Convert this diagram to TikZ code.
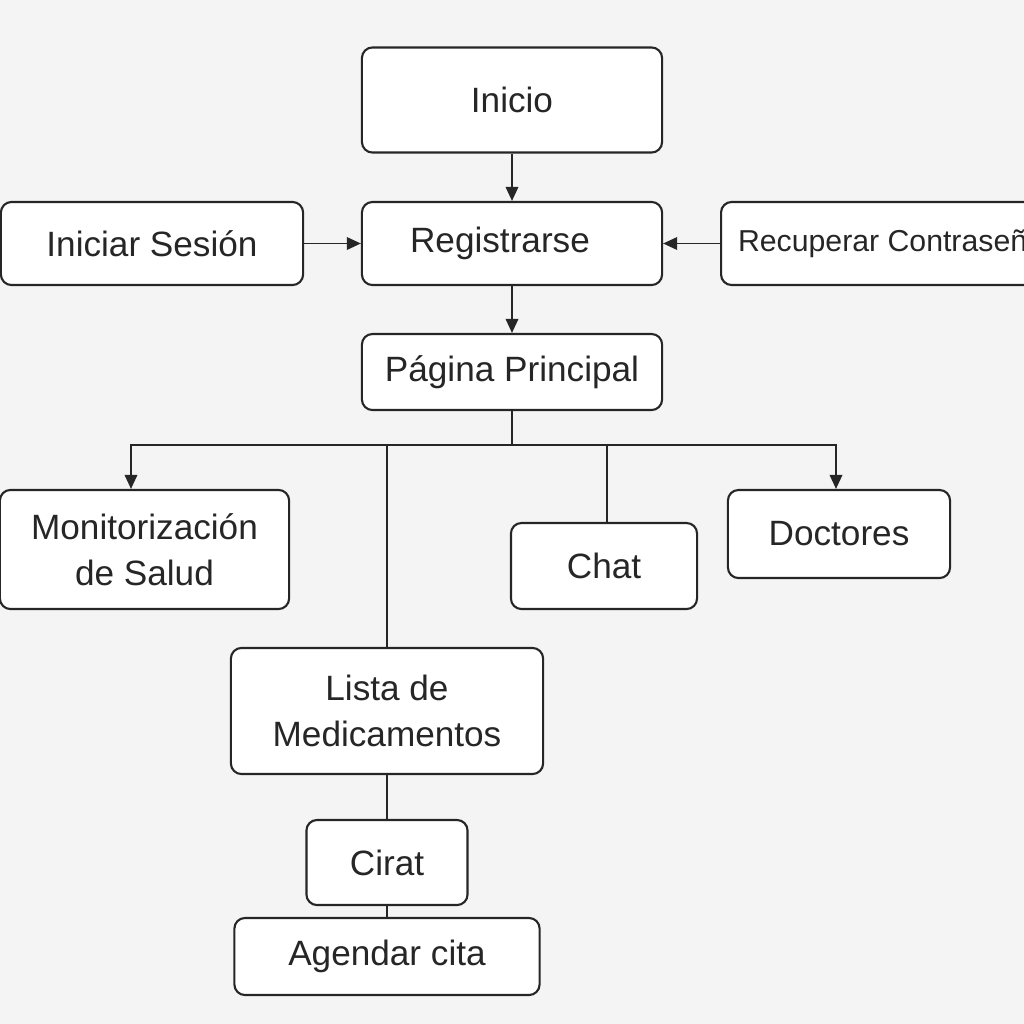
\documentclass[tikz,border=0pt]{standalone}
\usepackage{fontspec}
\setmainfont{Liberation Sans}
\usetikzlibrary{arrows.meta}
\definecolor{fondo}{HTML}{F4F4F4}
\definecolor{trazo}{HTML}{262626}
\tikzset{
  caja/.style={
    rectangle,
    rounded corners=3pt,
    draw=trazo,
    fill=white,
    line width=0.6pt,
    minimum width=#1,
    align=center,
    inner sep=0pt,
    text=trazo,
    font=\fontsize{10}{13}\selectfont,
  },
  caja/.default=3cm,
  flecha/.style={-{Triangle[length=4pt,width=3.6pt]}, draw=trazo, line width=0.45pt},
  enlace/.style={draw=trazo, line width=0.45pt}
}

\begin{document}
\begin{tikzpicture}[x=0.01cm,y=-0.01cm]
\path[use as bounding box, fill=fondo] (0,0) rectangle (1024,1024);
\node[caja, minimum height=1.05cm] (inicio) at (512,100) {Inicio};
\node[caja, minimum height=0.83cm] (registrarse) at (512,243.5) {Registrarse\hspace{0.24cm}};
\node[caja=3.02cm, minimum height=0.83cm] (iniciar) at (152,243.5) {Iniciar Sesión};
\node[caja, minimum height=0.83cm, anchor=west, inner xsep=0.17cm,
  font=\fontsize{8.6}{11}\selectfont] (recuperar) at (720,243.5) {Recuperar Contraseña};
\node[caja, minimum height=0.76cm] (pagina) at (512,372) {Página Principal};
\node[caja=2.89cm, minimum height=1.19cm] (monitor) at (144.5,549.5) {Monitorización\\de Salud};
\node[caja=1.86cm, minimum height=0.86cm] (chat) at (604,566) {Chat};
\node[caja=2.22cm, minimum height=0.88cm] (doctores) at (839,534) {Doctores};
\node[caja=3.12cm, minimum height=1.26cm] (lista) at (387,711) {Lista de\\Medicamentos};
\node[caja=1.61cm, minimum height=0.85cm] (cirat) at (387,862.5) {Cirat};
\node[caja=3.05cm, minimum height=0.77cm] (agendar) at (387,956.5) {Agendar cita};
\coordinate (bus) at (512,445);

\draw[flecha] (inicio) -- (registrarse);
\draw[flecha] (iniciar) -- (registrarse);
\draw[flecha] (recuperar.west) -- (registrarse);
\draw[flecha] (registrarse) -- (pagina);
\draw[enlace] (pagina) -- (bus);
\draw[flecha] (bus) -| ([xshift=-0.135cm]monitor.north);
\draw[flecha] (bus) -| ([xshift=-0.03cm]doctores.north);
\draw[enlace] (bus) -| (lista.north);
\draw[enlace] (bus) -| ([xshift=0.03cm]chat.north);
\draw[enlace] (lista) -- (cirat);
\draw[enlace] (cirat) -- (agendar);
\end{tikzpicture}
\end{document}
